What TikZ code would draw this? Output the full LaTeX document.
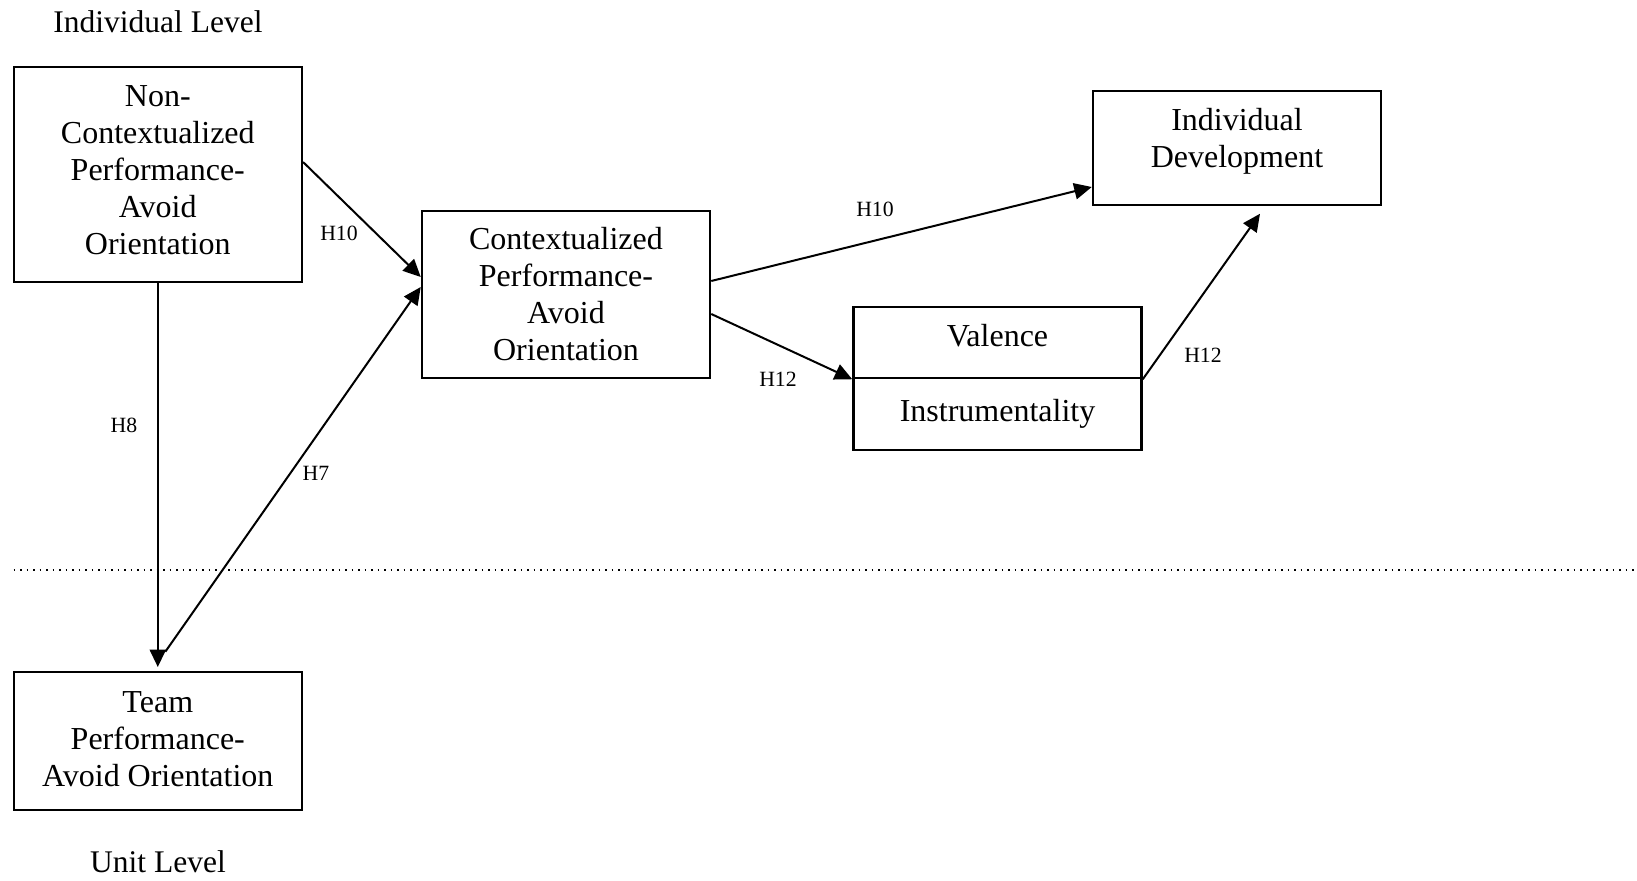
\documentclass[tikz,border=0pt]{standalone}
\usepackage{fontspec}
\setmainfont{Liberation Serif}
\usetikzlibrary{arrows.meta}

\tikzset{
  cbox/.style={draw, line width=1pt, minimum width=115.2pt, align=center,
               inner sep=0, font=\fontsize{12.8}{14.8}\selectfont},
  lvl/.style={font=\fontsize{12.6}{14.8}\selectfont, inner sep=0},
  hlabel/.style={font=\fontsize{8.7}{10}\selectfont, inner sep=0},
  hyp arrow/.style={-{Triangle[length=7pt,width=6.5pt]}, line width=0.8pt},
}

\begin{document}
\begin{tikzpicture}[x=0.4pt, y=-0.4pt]
    % Layout in pixel units of the original figure (y grows downwards).
    \useasboundingbox (0,0) rectangle (1637,880);

    % --- level labels and divider ---
    \node[lvl] (indlevel) at (158,22) {Individual Level};
    \node[lvl] (unitlevel) at (158,862) {Unit Level};
    \coordinate (divleft) at (13.6,570);
    \coordinate (divright) at (1637,570);
    \draw[dotted, line width=0.6pt] (divleft) -- (divright);

    % --- boxes ---
    \node[cbox, minimum height=86pt, text depth=3.4pt] (noncpa) at (157.8,174.5)
      {Non-\\Contextualized\\Performance-\\Avoid\\Orientation};
    \node[cbox, minimum height=66.8pt] (cpa) at (566,294.5)
      {Contextualized\\Performance-\\Avoid\\Orientation};
    \node[cbox, minimum height=45.6pt, text depth=8pt] (inddev) at (1237,148)
      {Individual\\Development};
    \node[cbox, minimum height=28.4pt, text depth=6pt] (valence) at (997.5,342.5) {Valence};
    \node[cbox, minimum height=28.8pt] (instr) at (997.5,414) {Instrumentality};
    \node[cbox, minimum height=55.2pt, text depth=1.7pt] (teampa) at (157.8,741)
      {Team\\Performance-\\Avoid Orientation};

    % --- hypothesised paths ---
    \draw[hyp arrow] ([yshift=5pt]noncpa.east) -- ([yshift=7pt]cpa.west);
    \draw[hyp arrow] (noncpa.south) -- ([yshift=1.5pt]teampa.north);
    \draw[hyp arrow] ([xshift=3pt,yshift=7.6pt]teampa.north) -- ([yshift=3pt]cpa.west);
    \draw[hyp arrow] ([yshift=5.4pt]cpa.east) -- ([yshift=-15.6pt]inddev.west);
    \draw[hyp arrow] ([yshift=-7.8pt]cpa.east) -- (valence.south west);
    \draw[hyp arrow] (valence.south east) -- ([xshift=9.2pt,yshift=-3pt]inddev.south);

    % --- path labels ---
    \node[hlabel] (h10a) at (339,233) {H10};
    \node[hlabel] (h8) at (124,425) {H8};
    \node[hlabel] (h7) at (316,473) {H7};
    \node[hlabel] (h10b) at (875,209) {H10};
    \node[hlabel] (h12a) at (778,379) {H12};
    \node[hlabel] (h12b) at (1203,355) {H12};
\end{tikzpicture}
\end{document}
